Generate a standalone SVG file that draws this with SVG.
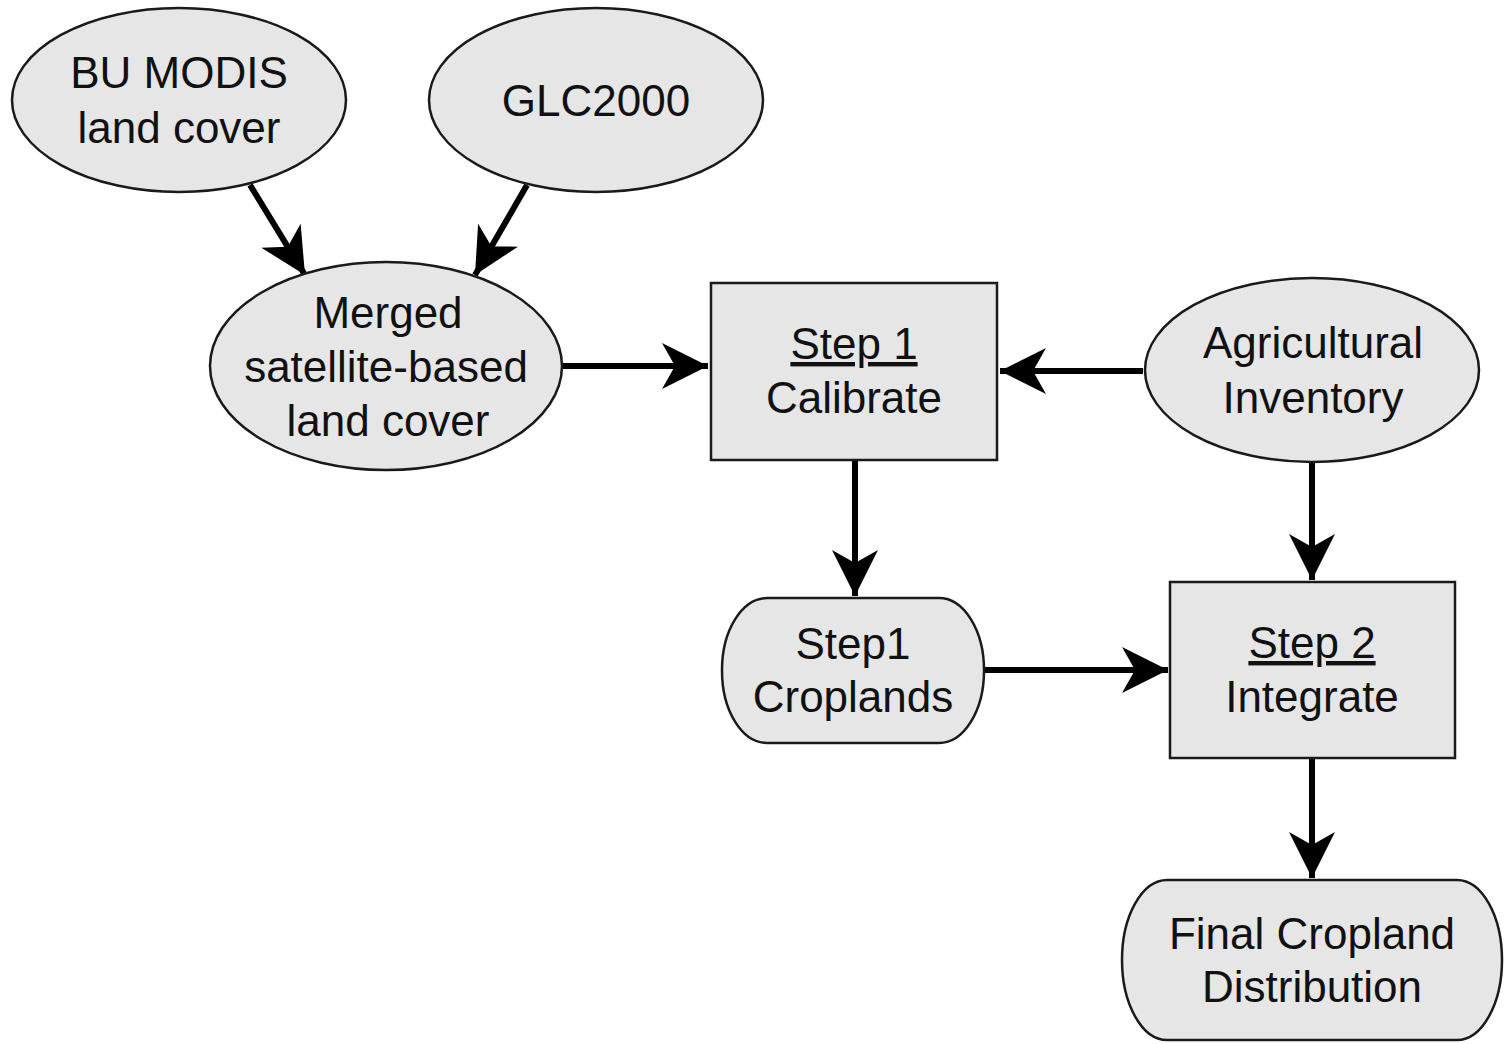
<svg xmlns="http://www.w3.org/2000/svg" width="1504" height="1044" viewBox="0 0 1504 1044">
<style>
.n{fill:#e6e6e6;stroke:#1a1a1a;stroke-width:2.5}
.t{font-family:"Liberation Sans",Arial,sans-serif;font-size:44px;fill:#111;text-anchor:middle}
.u{text-decoration:underline}
.c{stroke:#000;stroke-width:6;fill:none;marker-end:url(#ah)}
</style>
<defs>
<marker id="ah" markerUnits="userSpaceOnUse" markerWidth="50" markerHeight="50" viewBox="-46 -25 48 50" refX="0" refY="0" orient="auto">
<path d="M0,0 L-46,-23 L-33,0 L-46,23 Z" fill="#000"/>
</marker>
</defs>
<rect width="1504" height="1044" fill="#fff"/>
<g id="connectors">
<line class="c" x1="250" y1="185" x2="305" y2="275"/>
<line class="c" x1="527" y1="185" x2="475" y2="275"/>
<line class="c" x1="563" y1="366" x2="708" y2="366"/>
<line class="c" x1="1143" y1="371" x2="1000" y2="371"/>
<line class="c" x1="855" y1="460" x2="855" y2="596"/>
<line class="c" x1="1312" y1="462" x2="1312" y2="580"/>
<line class="c" x1="984" y1="670" x2="1168" y2="670"/>
<line class="c" x1="1312" y1="758" x2="1312" y2="878"/>
</g>
<g id="bu-modis">
<ellipse class="n" cx="179" cy="100" rx="167" ry="92"/>
<text class="t" x="179" y="88">BU MODIS</text>
<text class="t" x="179" y="143">land cover</text>
</g>
<g id="glc2000">
<ellipse class="n" cx="596" cy="100" rx="167" ry="92"/>
<text class="t" x="596" y="116">GLC2000</text>
</g>
<g id="merged">
<ellipse class="n" cx="386" cy="366" rx="176" ry="104"/>
<text class="t" x="388" y="328">Merged</text>
<text class="t" x="386" y="382">satellite-based</text>
<text class="t" x="388" y="436">land cover</text>
</g>
<g id="step1">
<rect class="n" x="711" y="283" width="286" height="177"/>
<text class="t u" x="854" y="359">Step 1</text>
<text class="t" x="854" y="413">Calibrate</text>
</g>
<g id="agri">
<ellipse class="n" cx="1312" cy="370" rx="167" ry="92"/>
<text class="t" x="1313" y="358">Agricultural</text>
<text class="t" x="1313" y="413">Inventory</text>
</g>
<g id="croplands">
<rect class="n" x="722" y="598" width="262" height="145" rx="45" ry="72"/>
<text class="t" x="853" y="659">Step1</text>
<text class="t" x="853" y="712">Croplands</text>
</g>
<g id="step2">
<rect class="n" x="1170" y="582" width="285" height="176"/>
<text class="t u" x="1312" y="658">Step 2</text>
<text class="t" x="1312" y="712">Integrate</text>
</g>
<g id="final">
<rect class="n" x="1122" y="880" width="380" height="160" rx="45" ry="80"/>
<text class="t" x="1312" y="949">Final Cropland</text>
<text class="t" x="1312" y="1002">Distribution</text>
</g>
</svg>
